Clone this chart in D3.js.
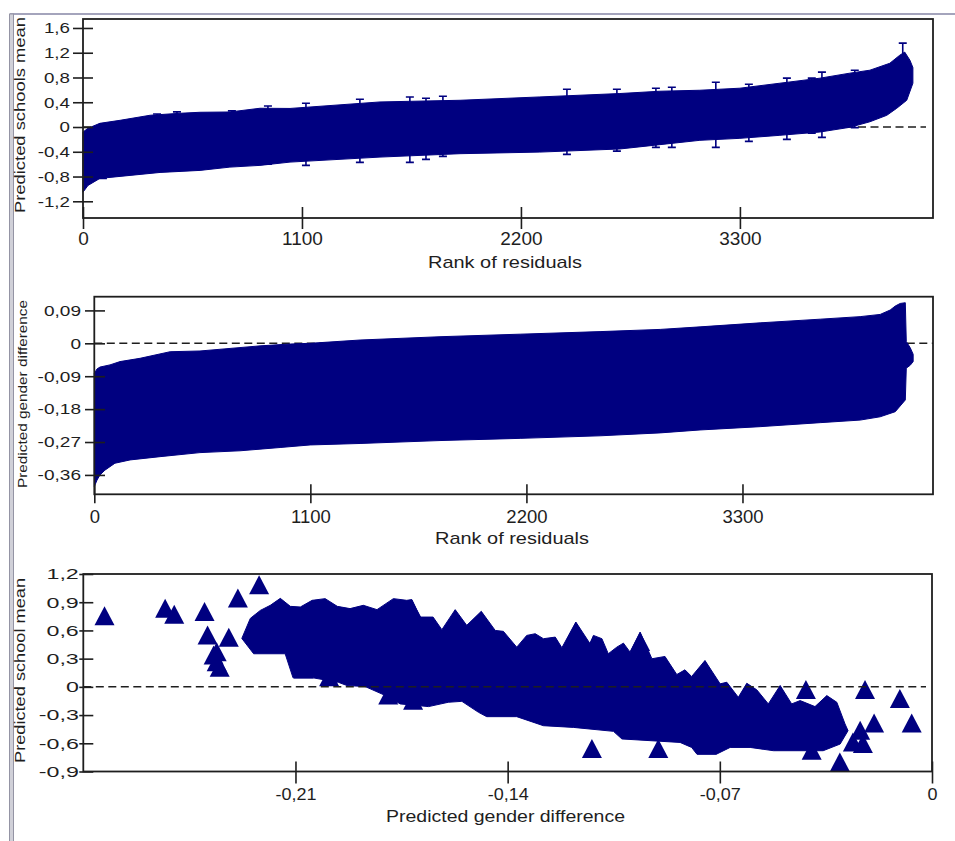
<!DOCTYPE html>
<html>
<head>
<meta charset="utf-8">
<script src="https://cdn.jsdelivr.net/npm/d3@7"></script>
<style>
  body { margin: 0; background: #fff; }
  svg { display: block; }
</style>
</head>
<body>
<div id="board"></div>
<script>
// tick values
var rankTicks = [0, 1100, 2200, 3300];
var meanTicks = [-1.2, -0.8, -0.4, 0, 0.4, 0.8, 1.2, 1.6];
var genderTicks = [-0.36, -0.27, -0.18, -0.09, 0, 0.09];
var scatterMeanTicks = [-0.9, -0.6, -0.3, 0, 0.3, 0.6, 0.9, 1.2];
var scatterGenderTicks = [-0.21, -0.14, -0.07, 0];

// school mean residuals: upper / lower edge of the 95% intervals, by rank
var meanUpper = [[0, -0.081], [25, -0.021], [85, 0.06], [186, 0.108], [337, 0.19], [487, 0.222],
  [588, 0.238], [738, 0.243], [889, 0.303], [1040, 0.30], [1492, 0.405], [1894, 0.432],
  [2295, 0.486], [2697, 0.541], [2898, 0.578], [3099, 0.594], [3300, 0.627], [3501, 0.708],
  [3702, 0.789], [3852, 0.870], [3953, 0.918], [4053, 1.03], [4103, 1.16], [4128, 1.21],
  [4154, 1.08], [4169, 0.96]];
var meanLower = [[0, -1.053], [25, -0.944], [85, -0.830], [236, -0.782], [387, -0.734],
  [588, -0.701], [738, -0.648], [889, -0.620], [1040, -0.567], [1492, -0.486], [1894, -0.431],
  [2295, -0.405], [2697, -0.355], [2898, -0.285], [3099, -0.215], [3300, -0.183], [3501, -0.134],
  [3702, -0.081], [3852, -0.005], [3953, 0.085], [4038, 0.189], [4088, 0.303], [4138, 0.432],
  [4169, 0.708]];
// intervals whose caps stand out of the band: [rank, low, high]
var meanBars = [[100, -0.831, 0.05], [372, -0.70, 0.21], [472, -0.70, 0.245], [748, -0.62, 0.26],
  [929, -0.60, 0.34], [1120, -0.62, 0.384], [1391, -0.572, 0.449], [1642, -0.572, 0.486],
  [1723, -0.523, 0.465], [1808, -0.474, 0.497], [2431, -0.442, 0.61], [2682, -0.39, 0.61],
  [2878, -0.329, 0.627], [2958, -0.329, 0.643], [3179, -0.329, 0.724], [3345, -0.232, 0.691],
  [3536, -0.199, 0.789], [3661, -0.102, 0.789], [3712, -0.167, 0.886], [3877, -0.01, 0.918],
  [4118, 0.6, 1.355]];

// gender difference residuals: upper / lower interval edge, by rank
var genderUpper = [[0, -0.082], [14, -0.070], [29, -0.065], [80, -0.059], [131, -0.050],
  [233, -0.041], [386, -0.023], [538, -0.021], [691, -0.014], [844, -0.007], [997, -0.002],
  [1099, 0.0], [1353, 0.009], [1760, 0.018], [2168, 0.025], [2575, 0.032], [2881, 0.038],
  [3084, 0.045], [3390, 0.056], [3696, 0.066], [3899, 0.073], [4001, 0.079], [4052, 0.091],
  [4078, 0.102], [4103, 0.109], [4129, 0.111], [4134, 0.005], [4154, -0.012], [4169, -0.03]];
var genderLower = [[0, -0.392], [14, -0.374], [29, -0.360], [54, -0.347], [105, -0.328],
  [182, -0.319], [335, -0.310], [538, -0.299], [742, -0.294], [946, -0.285], [1099, -0.278],
  [1353, -0.274], [1760, -0.266], [2168, -0.260], [2575, -0.253], [2881, -0.245], [3084, -0.237],
  [3390, -0.228], [3696, -0.217], [3899, -0.210], [4001, -0.201], [4078, -0.187], [4129, -0.155],
  [4134, -0.068], [4154, -0.060], [4169, -0.050]];

// predicted gender difference vs predicted school mean: edge of the dense cloud
var cloudUpper = [[-0.2277, 0.515], [-0.2249, 0.728], [-0.2216, 0.813], [-0.2183, 0.867],
  [-0.2150, 0.941], [-0.2117, 0.856], [-0.2084, 0.849], [-0.2045, 0.920], [-0.2002, 0.938],
  [-0.1962, 0.856], [-0.1920, 0.832], [-0.1876, 0.867], [-0.1831, 0.821], [-0.1777, 0.938],
  [-0.1733, 0.920], [-0.1716, 0.928], [-0.1689, 0.742], [-0.1646, 0.742], [-0.1617, 0.608],
  [-0.1573, 0.821], [-0.1535, 0.654], [-0.1487, 0.803], [-0.1441, 0.600], [-0.1414, 0.590],
  [-0.1370, 0.422], [-0.1337, 0.547], [-0.1309, 0.565], [-0.1282, 0.512], [-0.1243, 0.529],
  [-0.1221, 0.416], [-0.1175, 0.689], [-0.1128, 0.458], [-0.1117, 0.547], [-0.1089, 0.512],
  [-0.1068, 0.352], [-0.1040, 0.422], [-0.1018, 0.465], [-0.0996, 0.369], [-0.0963, 0.582],
  [-0.0924, 0.299], [-0.0881, 0.323], [-0.0842, 0.131], [-0.0815, 0.181], [-0.0793, 0.110],
  [-0.0749, 0.280], [-0.0699, 0.032], [-0.0677, 0.049], [-0.0639, -0.111], [-0.0611, 0.038],
  [-0.0578, -0.032], [-0.0540, -0.181], [-0.0501, 0.014], [-0.0463, -0.181], [-0.0435, -0.146],
  [-0.0386, -0.210], [-0.0347, -0.093], [-0.0314, -0.164], [-0.0287, -0.394], [-0.0277, -0.466]];
var cloudLower = [[-0.0277, -0.466], [-0.0303, -0.608], [-0.0359, -0.679], [-0.0523, -0.679],
  [-0.0600, -0.644], [-0.0666, -0.644], [-0.0710, -0.714], [-0.0776, -0.714], [-0.0793, -0.644],
  [-0.0831, -0.591], [-0.1023, -0.554], [-0.1051, -0.473], [-0.1183, -0.431], [-0.1282, -0.413],
  [-0.1370, -0.317], [-0.1469, -0.317], [-0.1496, -0.271], [-0.1551, -0.154], [-0.1596, -0.164],
  [-0.1661, -0.210], [-0.1755, -0.181], [-0.1788, -0.114], [-0.1870, 0.003], [-0.1930, 0.014],
  [-0.1959, 0.049], [-0.2042, 0.096], [-0.2108, 0.096], [-0.2134, 0.352], [-0.2238, 0.352],
  [-0.2277, 0.515]];
// peaks along the top of the cloud, each the tip of one school's triangle
var cloudPeaks = [[-0.2216, 0.813], [-0.2150, 0.941], [-0.2045, 0.920], [-0.2002, 0.938],
  [-0.1876, 0.867], [-0.1777, 0.938], [-0.1716, 0.928], [-0.1573, 0.821], [-0.1487, 0.803],
  [-0.1337, 0.547], [-0.1309, 0.565], [-0.1243, 0.529], [-0.1175, 0.689], [-0.1117, 0.547],
  [-0.1018, 0.465], [-0.0963, 0.582], [-0.0881, 0.323], [-0.0815, 0.181], [-0.0749, 0.280],
  [-0.0677, 0.049], [-0.0611, 0.038], [-0.0501, 0.014], [-0.0347, -0.093]];
// schools standing apart from the cloud: [gender difference, school mean]
var cloudPoints = [[-0.273, 0.723], [-0.253, 0.805], [-0.250, 0.741], [-0.240, 0.769],
  [-0.229, 0.912], [-0.222, 1.053], [-0.239, 0.520], [-0.232, 0.496], [-0.236, 0.342],
  [-0.237, 0.307], [-0.236, 0.236], [-0.235, 0.176], [-0.2073, 0.158], [-0.1989, 0.076],
  [-0.1794, -0.119], [-0.1712, -0.173], [-0.1122, -0.688], [-0.0903, -0.688], [-0.0743, -0.652],
  [-0.0416, -0.059], [-0.0397, -0.706], [-0.0304, -0.830], [-0.0261, -0.617], [-0.0228, -0.634],
  [-0.0237, -0.493], [-0.0221, -0.059], [-0.0191, -0.415], [-0.0106, -0.155], [-0.0067, -0.415]];

(function() {
  var svg = d3.select('#board')
            .append('svg')
            .attr('width', 955)
            .attr('height', 841);

  var navy = '#000080';
  var ink = '#1e1e1e';
  var font = '"Liberation Sans", Arial, sans-serif';
  var triangle = 'M0,-12.5L10,6.5L-10,6.5Z';

  var locale = d3.formatLocale({
    decimal: ',', thousands: '', grouping: [3], currency: ['', ''], minus: '-'
  });

  // window border
  svg.append('line')
    .attr('x1', 10).attr('x2', 955).attr('y1', 14).attr('y2', 14)
    .attr('stroke', '#a4a4bc').attr('stroke-width', 2);
  svg.append('rect')
    .attr('x', 9.5).attr('y', 14).attr('width', 4).attr('height', 830)
    .attr('fill', '#d0d0d8').attr('stroke', '#9494a4').attr('stroke-width', 1);

  var p1 = { left: 83, top: 19, right: 933, bottom: 218 };
  var p2 = { left: 94.3, top: 296.7, right: 933, bottom: 494.3 };
  var p3 = { left: 83.3, top: 574, right: 932, bottom: 771.5 };

  function stretch(sel, sx) {
    sel.each(function() {
      var t = d3.select(this);
      var x = +t.attr('x') || 0;
      t.attr('x', x / sx).attr('transform', 'scale(' + sx + ',1)');
    });
  }

  function yAxis(p, y, ticks, fmt, o) {
    var g = svg.append('g')
      .attr('transform', 'translate(' + p.left + ',0)')
      .call(d3.axisLeft(y).tickValues(ticks).tickFormat(fmt)
        .tickSize(o.out).tickPadding(o.pad));
    g.select('.domain').remove();
    g.attr('font-family', font).attr('font-size', o.size);
    g.selectAll('.tick line')
      .attr('x1', o.inside)
      .attr('stroke', ink).attr('stroke-width', 1.6);
    g.selectAll('.tick text').attr('fill', ink);
    stretch(g.selectAll('.tick text'), o.sx);
  }

  function xAxis(p, x, ticks, fmt, o) {
    var g = svg.append('g')
      .attr('transform', 'translate(0,' + p.bottom + ')')
      .call(d3.axisBottom(x).tickValues(ticks).tickFormat(fmt)
        .tickSize(o.down).tickPadding(o.labelTop - o.down));
    g.select('.domain').remove();
    g.attr('font-family', font).attr('font-size', o.size);
    g.selectAll('.tick line')
      .attr('y1', -o.up)
      .attr('stroke', ink).attr('stroke-width', 1.6);
    g.selectAll('.tick text').attr('fill', ink);
    stretch(g.selectAll('.tick text'), o.sx);
  }

  function frame(p) {
    svg.append('rect')
      .attr('x', p.left).attr('y', p.top)
      .attr('width', p.right - p.left).attr('height', p.bottom - p.top)
      .attr('fill', 'none').attr('stroke', ink).attr('stroke-width', 1.8);
  }

  function zeroLine(y, x0, x1) {
    svg.append('line')
      .attr('x1', x0).attr('x2', x1).attr('y1', y(0)).attr('y2', y(0))
      .attr('stroke', ink).attr('stroke-width', 1.5)
      .attr('stroke-dasharray', '8,4.5');
  }

  function xTitle(text, cx, baseline, len) {
    svg.append('text')
      .attr('x', cx).attr('y', baseline)
      .attr('text-anchor', 'middle')
      .attr('font-family', font).attr('font-size', 17)
      .attr('fill', ink)
      .attr('textLength', len).attr('lengthAdjust', 'spacingAndGlyphs')
      .text(text);
  }

  function yTitle(text, cy, baseline, len, size) {
    svg.append('text')
      .attr('transform', 'translate(' + baseline + ',' + cy + ') rotate(-90)')
      .attr('text-anchor', 'middle')
      .attr('font-family', font).attr('font-size', size)
      .attr('fill', ink)
      .attr('textLength', len).attr('lengthAdjust', 'spacingAndGlyphs')
      .text(text);
  }

  // filled outline: upper edge left to right, lower edge back
  function band(x, y, upper, lower) {
    var line = d3.line()
      .x(function(d) { return x(d[0]); })
      .y(function(d) { return y(d[1]); });
    svg.append('path')
      .attr('d', line(upper.concat(lower.slice().reverse())) + 'Z')
      .attr('fill', navy)
      .attr('stroke', navy).attr('stroke-width', 1)
      .attr('stroke-linejoin', 'round');
  }

  // ---- top: school means ranked ----
  var x1 = d3.scaleLinear().domain([0, 4270]).range([p1.left, p1.right]);
  var y1 = d3.scaleLinear().domain([-1.47, 1.745]).range([p1.bottom, p1.top]);

  zeroLine(y1, p1.left, 926);
  band(x1, y1, meanUpper, meanLower);

  svg.append('g').selectAll('path')
    .data(meanBars)
    .enter().append('path')
    .attr('d', function(d) {
      var x = x1(d[0]), lo = y1(d[1]), hi = y1(d[2]);
      return 'M' + (x - 4) + ',' + lo + 'h8M' + x + ',' + lo + 'V' + hi +
        'M' + (x - 4) + ',' + hi + 'h8';
    })
    .attr('fill', 'none')
    .attr('stroke', navy).attr('stroke-width', 1.6);

  frame(p1);
  yAxis(p1, y1, meanTicks, locale.format('.1~f'),
    { out: 10, inside: 10, pad: 3, size: 15, sx: 1.25 });
  xAxis(p1, x1, rankTicks, locale.format('d'),
    { up: 11, down: 11, labelTop: 13.7, size: 19, sx: 1 });
  xTitle('Rank of residuals', 505, 268, 154);
  yTitle('Predicted schools mean', 115, 25, 196, 15);

  // ---- middle: gender differences ranked ----
  var x2 = d3.scaleLinear().domain([0, 4270]).range([p2.left, p2.right]);
  var y2 = d3.scaleLinear().domain([-0.413, 0.1275]).range([p2.bottom, p2.top]);

  zeroLine(y2, p2.left, p2.right);
  band(x2, y2, genderUpper, genderLower);

  frame(p2);
  yAxis(p2, y2, genderTicks, locale.format('.2~f'),
    { out: 9.3, inside: 10.7, pad: 4, size: 15, sx: 1.27 });
  xAxis(p2, x2, rankTicks, locale.format('d'),
    { up: 10, down: 9, labelTop: 15.7, size: 18.5, sx: 1 });
  xTitle('Rank of residuals', 512, 544, 154);
  yTitle('Predicted gender difference', 394, 27, 188, 13);

  // ---- bottom: school mean against gender difference ----
  var x3 = d3.scaleLinear().domain([-0.28, 0]).range([p3.left, p3.right]);
  var y3 = d3.scaleLinear().domain([-0.9, 1.2]).range([p3.bottom, p3.top]);

  band(x3, y3, cloudUpper, cloudLower.slice().reverse());

  svg.append('g').selectAll('path')
    .data(cloudPeaks)
    .enter().append('path')
    .attr('transform', function(d) {
      return 'translate(' + x3(d[0]) + ',' + (y3(d[1]) + 12.5) + ')';
    })
    .attr('d', triangle)
    .attr('fill', navy);

  svg.append('g').selectAll('path')
    .data(cloudPoints)
    .enter().append('path')
    .attr('transform', function(d) {
      return 'translate(' + x3(d[0]) + ',' + y3(d[1]) + ')';
    })
    .attr('d', triangle)
    .attr('fill', navy);

  zeroLine(y3, p3.left, 926);
  frame(p3);
  yAxis(p3, y3, scatterMeanTicks, locale.format('.1~f'),
    { out: 4, inside: 10, pad: 0.5, size: 15, sx: 1.55 });
  xAxis(p3, x3, scatterGenderTicks, locale.format('.2~f'),
    { up: 10, down: 12, labelTop: 16, size: 17, sx: 1.06 });
  xTitle('Predicted gender difference', 505.5, 822, 239);
  yTitle('Predicted school mean', 670.5, 25, 185, 15);
}());
</script>
</body>
</html>
